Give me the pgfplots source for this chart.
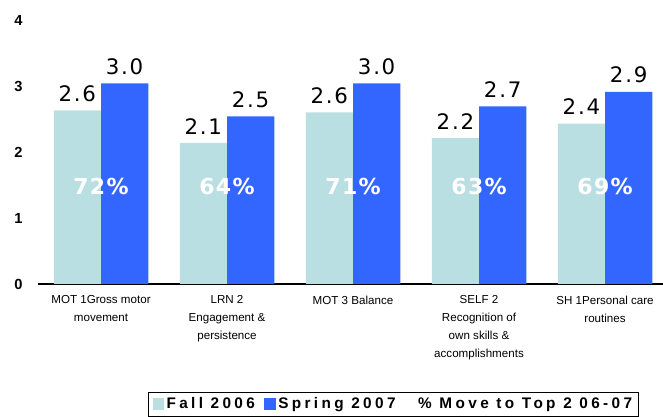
\documentclass[border=0pt]{standalone}
\usepackage{pgfplots}
\pgfplotsset{compat=1.18}
\usepackage{fontspec}
\setmainfont{Liberation Sans}
\newfontfamily\legfont[LetterSpace=22]{Liberation Sans}
\newfontfamily\labfont[LetterSpace=8]{DejaVu Sans}
\newfontfamily\pctfont[LetterSpace=6]{DejaVu Sans}
\definecolor{fallc}{RGB}{186,223,226}
\definecolor{springc}{RGB}{51,102,255}
\begin{document}
\begin{tikzpicture}
\begin{axis}[
  scale only axis,
  width=468.75pt, height=198pt,
  at={(28.5pt,99.75pt)}, anchor=south west,
  ybar=0pt, bar width=0.375,
  xmin=-0.5, xmax=4.46, ymin=0, ymax=4,
  axis x line*=bottom, axis y line*=left,
  y axis line style={draw=none},
  ytick={0,1,2,3,4}, ytick style={draw=none},
  yticklabel style={font=\fontsize{11}{13}\selectfont\bfseries, xshift=-8pt},
  /pgf/number format/assume math mode=true,
  xtick={0,1,2,3,4},
  major x tick style={draw=none},
  extra x ticks={-0.5,0.5,1.5,2.5,3.5},
  extra x tick labels={},
  extra x tick style={tick align=outside, major tick length=3.5pt, tick style={black, thick}},
  xticklabels={{MOT 1Gross motor\\movement},{LRN 2\\Engagement \&\\persistence},{MOT 3 Balance},{SELF 2\\Recognition of\\own skills \&\\accomplishments},{SH 1Personal care\\routines}},
  xticklabel style={align=center, font=\fontsize{8.7}{13.5}\selectfont, yshift=-1pt},
  x axis line style={black, thick},
  nodes near coords={\pgfmathprintnumber[fixed, fixed zerofill, precision=1]{\pgfplotspointmeta}},
  every node near coord/.append style={font=\labfont\fontsize{16}{18}\selectfont, black, yshift=3pt},
  legend style={at={(0.176,-0.409)}, anchor=north west, draw=black, thick,
     legend columns=-1, font=\legfont\bfseries\fontsize{11.5}{13}\selectfont,
     /tikz/every even column/.append style={column sep=5pt}},
  legend image code/.code={\fill[#1] (0pt,-4.5pt) rectangle (8.5pt,4.5pt);},
]
\addplot[fill=fallc, draw=none] coordinates {(0,2.63) (1,2.14) (2,2.60) (3,2.21) (4,2.43)};
\addplot[fill=springc, draw=none] coordinates {(0,3.04) (1,2.54) (2,3.04) (3,2.69) (4,2.91)};
\addlegendentry{Fall 2006}
\addlegendentry{Spring 2007}
\addlegendimage{empty legend}
\addlegendentry{\hspace{8pt}\% Move to Top 2 06-07}
\node[white, font=\pctfont\bfseries\fontsize{16.5}{18}\selectfont] at (axis cs:0,1.47) {72\%};
\node[white, font=\pctfont\bfseries\fontsize{16.5}{18}\selectfont] at (axis cs:1,1.47) {64\%};
\node[white, font=\pctfont\bfseries\fontsize{16.5}{18}\selectfont] at (axis cs:2,1.47) {71\%};
\node[white, font=\pctfont\bfseries\fontsize{16.5}{18}\selectfont] at (axis cs:3,1.47) {63\%};
\node[white, font=\pctfont\bfseries\fontsize{16.5}{18}\selectfont] at (axis cs:4,1.47) {69\%};
\end{axis}
\pgfresetboundingbox
\path[use as bounding box] (0,0) rectangle (497.25pt,312.75pt);
\end{tikzpicture}
\end{document}
